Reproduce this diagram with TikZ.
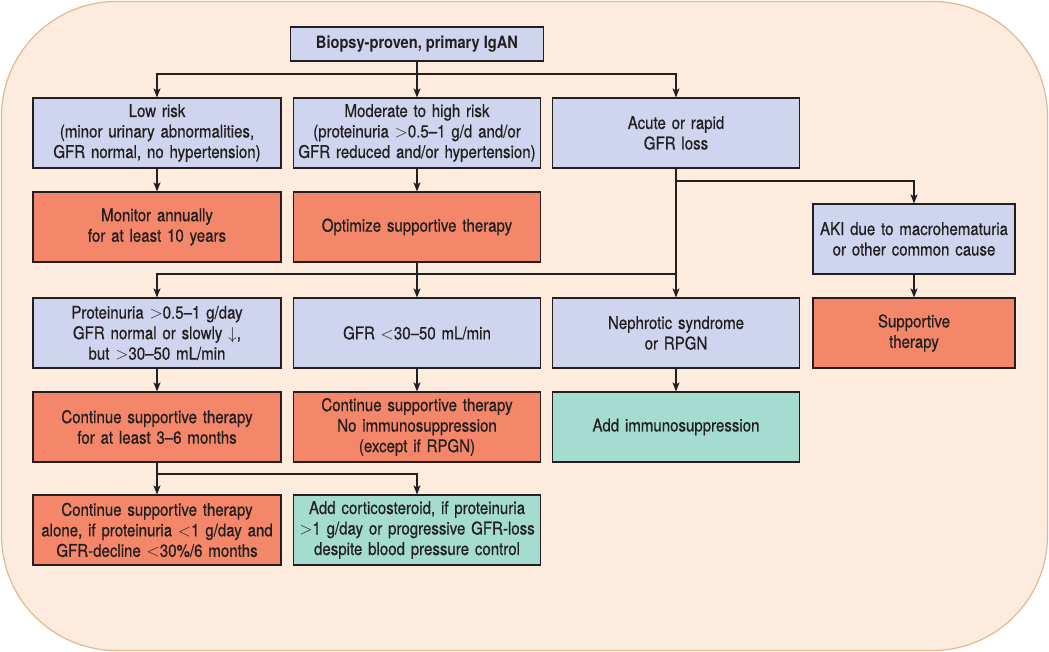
\documentclass[tikz,border=0pt]{standalone}
\usepackage{fontspec}
\setmainfont{TeX Gyre Heros}[FakeStretch=0.86,FakeBold=0.6]
\newfontfamily\headfont{TeX Gyre Heros}[FakeStretch=0.86]
\newcommand{\lt}{\ensuremath{<}}
\newcommand{\gt}{\ensuremath{>}}
\usetikzlibrary{arrows.meta}
\definecolor{bgfill}{HTML}{FDECDD}
\definecolor{bgline}{HTML}{E3B890}
\definecolor{bluebox}{HTML}{D0D5EF}
\definecolor{orangebox}{HTML}{F4876A}
\definecolor{tealbox}{HTML}{A4DDD0}
\definecolor{ink}{HTML}{231F20}
\begin{document}
\begin{tikzpicture}[x=1pt,y=-1pt,
  box/.style={draw=ink,line width=1.1pt,minimum height=70pt,inner sep=0pt,align=center,text=ink,
    font=\fontsize{17.5}{20.5}\selectfont},
  wbox/.style={box,minimum width=247pt,text width=244pt},
  nbox/.style={box,minimum width=202pt,text width=200pt},
  blue/.style={fill=bluebox},
  orng/.style={fill=orangebox},
  teal/.style={fill=tealbox},
  conn/.style={draw=ink,line width=1.1pt},
  arr/.style={conn,-{Stealth[length=9pt,width=7pt,inset=2pt]}}]
\useasboundingbox (0,0) rectangle (1049,652);
\draw[fill=bgfill,draw=bgline,line width=1.2pt,rounded corners=115pt] (1.5,1.5) rectangle (1047.5,650.5);

\node[box,blue,minimum width=253pt,minimum height=34pt,font=\fontsize{17}{20}\selectfont\headfont\bfseries] (top) at (417,44) {Biopsy-proven, primary IgAN};

\node[wbox,blue,minimum width=248pt] (low) at (157,133) {Low risk\\(minor urinary abnormalities,\\GFR normal, no hypertension)};
\node[wbox,blue] (mod) at (417,133) {Moderate to high risk\\(proteinuria \gt0.5--1 g/d and/or\\GFR reduced and/or hypertension)};
\node[wbox,blue] (acute) at (676,133) {Acute or rapid\\GFR loss};

\node[wbox,orng,minimum width=248pt] (monitor) at (157,227) {Monitor annually\\for at least 10 years};
\node[wbox,orng] (optim) at (417,227) {Optimize supportive therapy};
\node[nbox,blue] (aki) at (914,239) {AKI due to macrohematuria\\or other common cause};

\node[wbox,blue,minimum width=248pt] (prot) at (157,333) {Proteinuria \gt0.5--1 g/day\\GFR normal or slowly $\downarrow$,\\but \gt30--50 mL/min};
\node[wbox,blue] (gfr) at (417,333) {GFR \lt30--50 mL/min};
\node[wbox,blue] (neph) at (676,333) {Nephrotic syndrome\\or RPGN};
\node[nbox,orng] (supp) at (914,333) {Supportive\\therapy};

\node[wbox,orng,minimum width=248pt] (cont1) at (157,427) {Continue supportive therapy\\for at least 3--6 months};
\node[wbox,orng] (cont2) at (417,427) {Continue supportive therapy\\No immunosuppression\\(except if RPGN)};
\node[wbox,teal] (addimm) at (676,427) {Add immunosuppression};

\node[wbox,orng,minimum width=248pt] (alone) at (157,530) {Continue supportive therapy\\alone, if proteinuria \lt1 g/day and\\GFR-decline \lt30\%/6 months};
\node[wbox,teal] (cortico) at (417,530) {Add corticosteroid, if proteinuria\\\gt1 g/day or progressive GFR-loss\\despite blood pressure control};

\coordinate (j1) at (417,74);
\coordinate (j2) at (676,181);
\coordinate (j3) at (676,274);
\coordinate (j4) at (157,474);

\draw[conn] (top.south) -- (j1);
\draw[arr] (j1) -| (low.north);
\draw[arr] (j1) -| (acute.north);
\draw[arr] (j1) -- (mod.north);
\draw[arr] (low) -- (monitor);
\draw[arr] (mod) -- (optim);
\draw[arr] (acute) -- (neph);
\draw[arr] (j2) -| (aki.north);
\draw[arr] (j3) -| (prot.north);
\draw[arr] (optim) -- (gfr);
\draw[arr] (aki) -- (supp);
\draw[arr] (prot) -- (cont1);
\draw[arr] (gfr) -- (cont2);
\draw[arr] (neph) -- (addimm);
\draw[arr] (cont1) -- (alone);
\draw[arr] (j4) -| (cortico.north);
\end{tikzpicture}
\end{document}
